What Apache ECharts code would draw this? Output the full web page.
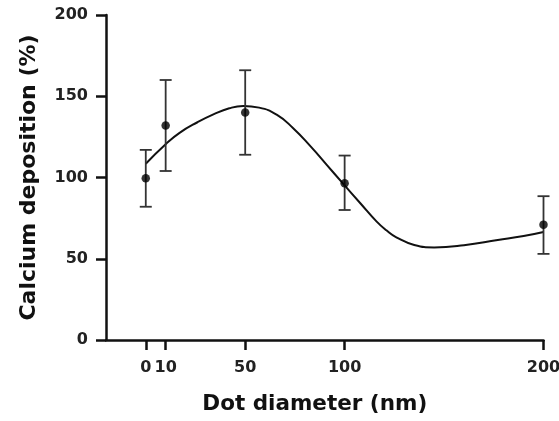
<!DOCTYPE html>
<html><head><meta charset="utf-8">
<script src="https://cdn.jsdelivr.net/npm/echarts@6/dist/echarts.min.js"></script>
<style>html,body{margin:0;padding:0;background:#fff}#c{width:559px;height:421px}</style>
</head><body><div id="c"></div>
<script>
var sizes = [0, 10, 50, 100, 200];
var means = [99.5, 132, 140, 96.5, 71];
var upper = [117, 160, 166, 113.5, 88.5];
var lower = [82, 104, 114, 80, 53];
var xTicks = [0, 10, 50, 100, 200];
var yTicks = [0, 50, 100, 150, 200];
var fitX = [0, 10, 17, 26, 34, 42, 49, 57, 66, 74, 83, 91, 99, 108, 116, 121, 126, 135, 145, 160, 177, 190, 200];
var fitY = [108.5, 120.5, 127.5, 134, 138.8, 142.6, 144, 143, 138.5, 130.5, 119, 107.8, 96.5, 84, 73, 67.5, 63.2, 58.5, 57, 58.3, 61.5, 64, 66.5];

var chart = echarts.init(document.getElementById('c'), null, {renderer: 'canvas'});
var font = 'DejaVu Sans, sans-serif';
var errData = sizes.map(function (s, i) { return [s, lower[i], upper[i]]; });
var ptData = sizes.map(function (s, i) { return [s, means[i]]; });
var fitData = fitX.map(function (x, i) { return [x, fitY[i]]; });

chart.setOption({
  animation: false,
  grid: {left: 106, right: 15.5, top: 15, bottom: 81, containLabel: false, outerBoundsMode: 'none'},
  xAxis: {
    type: 'value', min: -20, max: 200,
    name: 'Dot diameter (nm)', nameLocation: 'middle', nameGap: 53,
    nameTextStyle: {fontFamily: font, fontWeight: 'bold', fontSize: 21.5, color: '#111', padding: [0, 20, 0, 0]},
    axisLine: {show: true, lineStyle: {color: '#111', width: 2.5}},
    axisTick: {show: true, length: 10, inside: false, customValues: xTicks, lineStyle: {color: '#111', width: 2.5}},
    axisLabel: {customValues: xTicks, margin: 20, fontFamily: font, fontWeight: 'bold', fontSize: 16, color: '#222'},
    splitLine: {show: false}
  },
  yAxis: {
    type: 'value', min: 0, max: 200, interval: 50,
    name: 'Calcium deposition (%)', nameLocation: 'middle', nameGap: 66,
    nameTextStyle: {fontFamily: font, fontWeight: 'bold', fontSize: 22, color: '#111'},
    axisLine: {show: true, onZero: false, lineStyle: {color: '#111', width: 2.5}},
    axisTick: {show: true, length: 10, inside: false, lineStyle: {color: '#111', width: 2.5}},
    axisLabel: {margin: 18, fontFamily: font, fontWeight: 'bold', fontSize: 16, color: '#222'},
    splitLine: {show: false}
  },
  series: [
    {
      type: 'line', data: fitData, smooth: 0.5, showSymbol: false, symbol: 'none',
      lineStyle: {color: '#111', width: 2}, z: 3
    },
    {
      type: 'custom', data: errData, z: 4,
      renderItem: function (params, api) {
        var x = api.value(0);
        var lo = api.coord([x, api.value(1)]);
        var hi = api.coord([x, api.value(2)]);
        var w = 6;
        var st = {stroke: '#333', lineWidth: 1.8};
        return {type: 'group', children: [
          {type: 'line', shape: {x1: lo[0], y1: lo[1], x2: hi[0], y2: hi[1]}, style: st},
          {type: 'line', shape: {x1: hi[0] - w, y1: hi[1], x2: hi[0] + w, y2: hi[1]}, style: st},
          {type: 'line', shape: {x1: lo[0] - w, y1: lo[1], x2: lo[0] + w, y2: lo[1]}, style: st}
        ]};
      }
    },
    {
      type: 'scatter', data: ptData, symbol: 'circle', symbolSize: 8.5,
      itemStyle: {color: '#000'}, z: 5
    }
  ]
});
</script></body></html>
